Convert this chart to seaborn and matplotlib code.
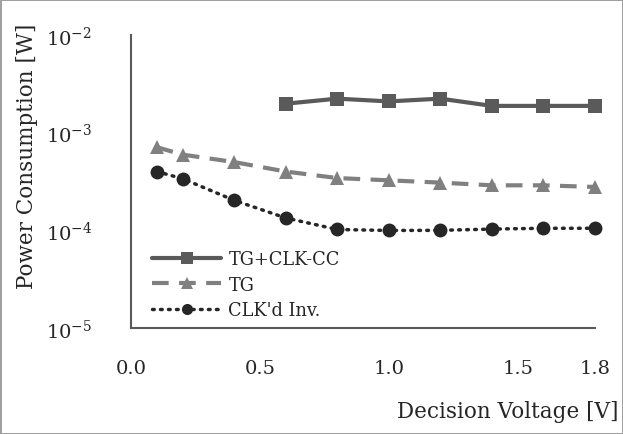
import pandas as pd
import matplotlib
matplotlib.use("Agg")
import matplotlib.pyplot as plt
import seaborn as sns

# values
voltage = [0.1, 0.2, 0.4, 0.6, 0.8, 1.0, 1.2, 1.4, 1.6, 1.8]
tg_clk_cc_v = [0.6, 0.8, 1.0, 1.2, 1.4, 1.6, 1.8]
tg_clk_cc = [1.98e-3, 2.23e-3, 2.09e-3, 2.23e-3, 1.88e-3, 1.88e-3, 1.88e-3]
tg = [7.1e-4, 5.96e-4, 5.0e-4, 4.0e-4, 3.43e-4, 3.25e-4, 3.08e-4, 2.89e-4, 2.89e-4, 2.78e-4]
clkd_inv = [4.0e-4, 3.38e-4, 2.03e-4, 1.34e-4, 1.02e-4, 0.997e-4, 1.0e-4, 1.03e-4, 1.05e-4, 1.05e-4]

xticks = [0.0, 0.5, 1.0, 1.5, 1.8]
yticks = [1e-5, 1e-4, 1e-3, 1e-2]

sns.set_theme(style="white")
plt.rcParams["font.family"] = ["DejaVu Serif"]
plt.rcParams["mathtext.fontset"] = "dejavuserif"

fig = plt.figure(figsize=(6.23, 4.35), dpi=100)
ax = fig.add_axes([131 / 623, 1 - 329 / 435, 464 / 623, 293 / 435])

df1 = pd.DataFrame({"v": tg_clk_cc_v, "p": tg_clk_cc})
df2 = pd.DataFrame({"v": voltage, "p": tg})
df3 = pd.DataFrame({"v": voltage, "p": clkd_inv})

sns.lineplot(data=df1, x="v", y="p", ax=ax, color="#5a5a5a", lw=3, marker="s",
             markersize=10, markeredgewidth=0, label="TG+CLK-CC", clip_on=False)
sns.lineplot(data=df2, x="v", y="p", ax=ax, color="#808080", lw=3, marker="^",
             markersize=10, markeredgewidth=0, dashes=(4, 2.5), label="TG", clip_on=False)
sns.lineplot(data=df3, x="v", y="p", ax=ax, color="#262626", lw=2.5, marker="o",
             markersize=10, markeredgewidth=0, label="CLK'd Inv.", clip_on=False)
ax.lines[-1].set_linestyle((0, (0.5, 1.8)))
ax.lines[-1].set_dash_capstyle("round")

ax.set_yscale("log")
ax.set_ylim(1e-5, 1e-2)
ax.set_xlim(0, 1.8)
ax.set_xticks(xticks)
ax.set_xticklabels(["0.0", "0.5", "1.0", "1.5", "1.8"])
ax.set_yticks(yticks)
ax.yaxis.set_minor_locator(matplotlib.ticker.NullLocator())
ax.tick_params(axis="x", direction="in", length=6, width=1.2, color="#595959",
               labelsize=14, pad=22)
ax.tick_params(axis="y", direction="in", length=6, width=1.2, color="#595959",
               labelsize=14, pad=28)

for s in ["top", "right"]:
    ax.spines[s].set_visible(False)
for s in ["left", "bottom"]:
    ax.spines[s].set_color("#595959")
    ax.spines[s].set_linewidth(1.5)

ax.set_ylabel("Power Consumption [W]", fontsize=15.5)
ax.yaxis.set_label_coords(-0.2, 0.59)
ax.set_xlabel("Decision Voltage [V]", fontsize=15.5, ha="right")
ax.xaxis.set_label_coords(1.05, -0.245)

ax.legend(loc="lower left", bbox_to_anchor=(0.03, 0.006), frameon=False, fontsize=12.8,
          handlelength=3.9, numpoints=1, labelspacing=0.42, handletextpad=0.4,
          borderaxespad=0.0, markerscale=0.8)

fig.patch.set_edgecolor("#a0a0a0")
fig.patch.set_linewidth(2)

fig.savefig("out.png", dpi=100, edgecolor=fig.get_edgecolor())
